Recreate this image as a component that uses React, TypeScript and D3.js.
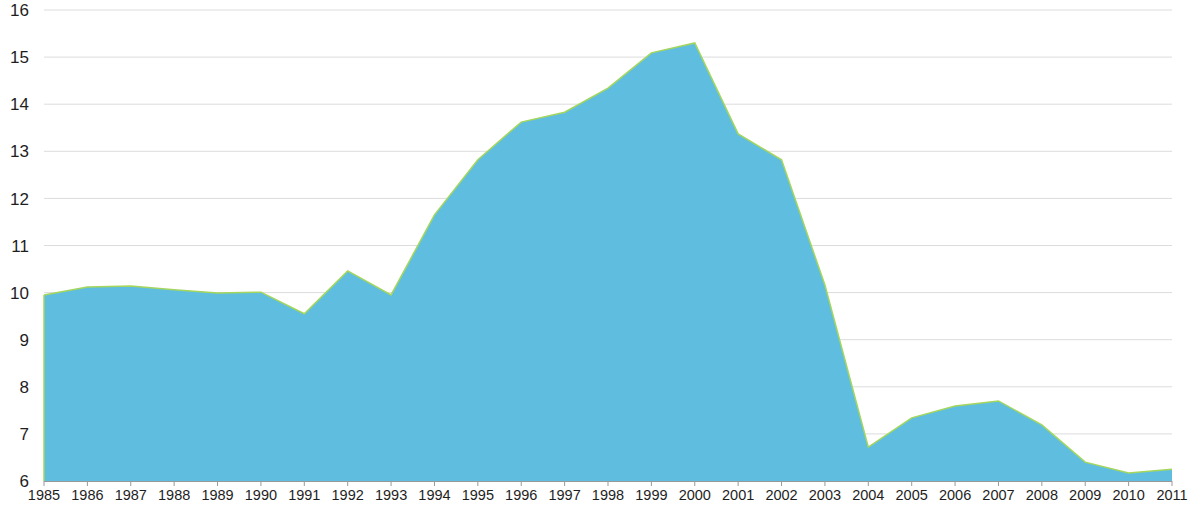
import React from "react";
import * as d3 from "d3";

const years: number[] = [1985,1986,1987,1988,1989,1990,1991,1992,1993,1994,1995,1996,1997,1998,1999,2000,2001,2002,2003,2004,2005,2006,2007,2008,2009,2010,2011];
const values: number[] = [9.95,10.12,10.14,10.06,9.99,10.01,9.55,10.46,9.95,11.65,12.82,13.62,13.83,14.34,15.09,15.3,13.37,12.82,10.16,6.72,7.34,7.59,7.7,7.19,6.4,6.17,6.25];
const yTicks: number[] = [6,7,8,9,10,11,12,13,14,15,16];

export default function App() {
  const W = 1193, H = 508;
  const x = d3.scaleLinear().domain([1985, 2011]).range([44, 1172]);
  const y = d3.scaleLinear().domain([6, 16]).range([481, 10]);
  const data = years.map((yr, i) => ({ yr, v: values[i] }));
  const area = d3.area<{ yr: number; v: number }>().x(d => x(d.yr)).y0(y(6)).y1(d => y(d.v));
  const line = d3.line<{ yr: number; v: number }>().x(d => x(d.yr)).y(d => y(d.v));
  const font = "'Liberation Sans', Arial, sans-serif";
  return (
    <svg width={W} height={H} style={{ position: "absolute", left: 0, top: 0, background: "#fff" }}>
      {yTicks.map(t => (
        <g key={t}>
          {t > 6 && <line x1={44} x2={1172} y1={y(t)} y2={y(t)} stroke="#dcdcdc" strokeWidth={1} />}
          <text x={29} y={y(t)} dy="0.36em" textAnchor="end" fontFamily={font} fontSize={17} fill="#1e1e1e">{t}</text>
        </g>
      ))}
      <path d={area(data) || ""} fill="#5fbedf" />
      <path d={line(data) || ""} fill="none" stroke="#a4d65e" strokeWidth={1.5} />
      <line x1={x(1985)} x2={x(1985)} y1={y(values[0])} y2={y(6)} stroke="#a4d65e" strokeWidth={1.5} />
      <line x1={44} x2={1172} y1={481.5} y2={481.5} stroke="#999" strokeWidth={1} />
      {years.map(yr => (
        <g key={yr}>
          <line x1={x(yr)} x2={x(yr)} y1={481} y2={486} stroke="#999" />
          <text x={x(yr)} y={499.5} textAnchor="middle" fontFamily={font} fontSize={14.5} fill="#1e1e1e">{yr}</text>
        </g>
      ))}
    </svg>
  );
}
